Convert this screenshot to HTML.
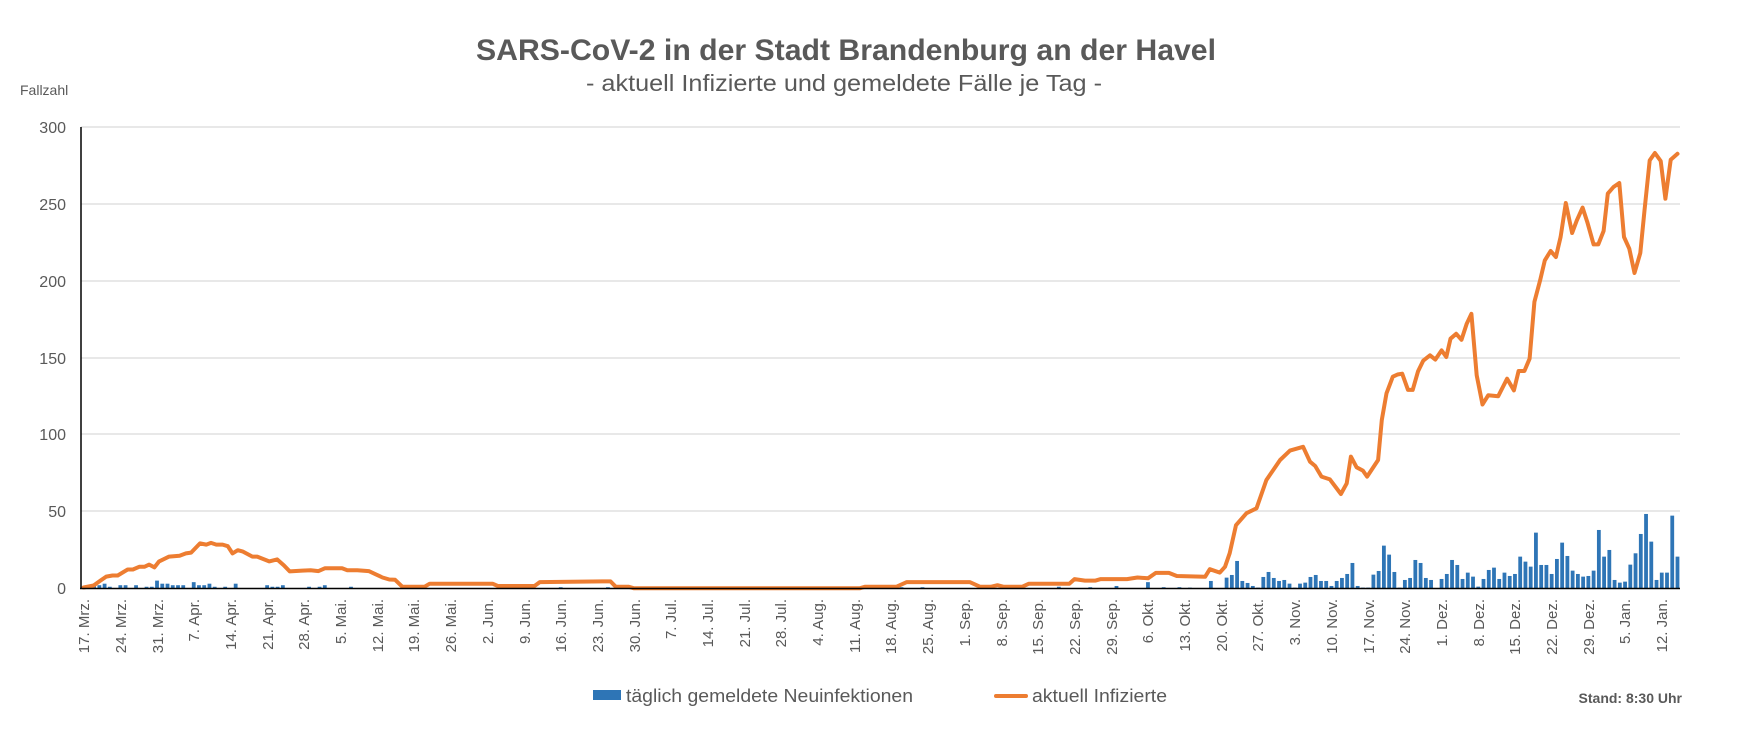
<!DOCTYPE html>
<html><head><meta charset="utf-8"><style>
html,body{margin:0;padding:0;background:#fff;}
svg{display:block;font-family:"Liberation Sans",sans-serif;}
</style></head><body>
<svg id="c" width="1737" height="729" viewBox="0 0 1737 729" xmlns="http://www.w3.org/2000/svg">
<rect width="1737" height="729" fill="#fff"/>
<text x="846" y="60" text-anchor="middle" font-size="30" font-weight="bold" fill="#595959" textLength="740" lengthAdjust="spacingAndGlyphs">SARS-CoV-2 in der Stadt Brandenburg an der Havel</text>
<text x="844" y="91" text-anchor="middle" font-size="23" fill="#595959" textLength="516" lengthAdjust="spacingAndGlyphs">- aktuell Infizierte und gemeldete Fälle je Tag -</text>
<text x="20" y="95" font-size="14" fill="#595959">Fallzahl</text>
<g id="grid" stroke="#d9d9d9" stroke-width="1.2">
<line x1="81" x2="1680" y1="127" y2="127"/><line x1="81" x2="1680" y1="204" y2="204"/><line x1="81" x2="1680" y1="281" y2="281"/><line x1="81" x2="1680" y1="358" y2="358"/><line x1="81" x2="1680" y1="434" y2="434"/><line x1="81" x2="1680" y1="511" y2="511"/>
</g>
<g font-size="16" fill="#595959" text-anchor="end">
<text x="66" y="133">300</text><text x="66" y="210">250</text><text x="66" y="287">200</text><text x="66" y="364">150</text><text x="66" y="440">100</text><text x="66" y="517">50</text><text x="66" y="594">0</text>
</g>
<g id="bars" fill="#2E75B6"></g>
<path id="ln" fill="none" stroke="#ED7D31" stroke-width="4" stroke-linejoin="round" stroke-linecap="round"/>
<line x1="81" y1="127" x2="81" y2="589" stroke="#000" stroke-width="1.5"/>
<line x1="80" y1="588.5" x2="1680" y2="588.5" stroke="#000" stroke-width="1.5"/>
<g font-size="15" fill="#595959" text-anchor="end">
<text transform="translate(89,599) rotate(-90)">17. Mrz.</text>
<text transform="translate(126,599) rotate(-90)">24. Mrz.</text>
<text transform="translate(163,599) rotate(-90)">31. Mrz.</text>
<text transform="translate(199,599) rotate(-90)">7. Apr.</text>
<text transform="translate(236,599) rotate(-90)">14. Apr.</text>
<text transform="translate(273,599) rotate(-90)">21. Apr.</text>
<text transform="translate(309,599) rotate(-90)">28. Apr.</text>
<text transform="translate(346,599) rotate(-90)">5. Mai.</text>
<text transform="translate(383,599) rotate(-90)">12. Mai.</text>
<text transform="translate(419,599) rotate(-90)">19. Mai.</text>
<text transform="translate(456,599) rotate(-90)">26. Mai.</text>
<text transform="translate(493,599) rotate(-90)">2. Jun.</text>
<text transform="translate(530,599) rotate(-90)">9. Jun.</text>
<text transform="translate(566,599) rotate(-90)">16. Jun.</text>
<text transform="translate(603,599) rotate(-90)">23. Jun.</text>
<text transform="translate(640,599) rotate(-90)">30. Jun.</text>
<text transform="translate(676,599) rotate(-90)">7. Jul.</text>
<text transform="translate(713,599) rotate(-90)">14. Jul.</text>
<text transform="translate(750,599) rotate(-90)">21. Jul.</text>
<text transform="translate(786,599) rotate(-90)">28. Jul.</text>
<text transform="translate(823,599) rotate(-90)">4. Aug.</text>
<text transform="translate(860,599) rotate(-90)">11. Aug.</text>
<text transform="translate(896,599) rotate(-90)">18. Aug.</text>
<text transform="translate(933,599) rotate(-90)">25. Aug.</text>
<text transform="translate(970,599) rotate(-90)">1. Sep.</text>
<text transform="translate(1007,599) rotate(-90)">8. Sep.</text>
<text transform="translate(1043,599) rotate(-90)">15. Sep.</text>
<text transform="translate(1080,599) rotate(-90)">22. Sep.</text>
<text transform="translate(1117,599) rotate(-90)">29. Sep.</text>
<text transform="translate(1153,599) rotate(-90)">6. Okt.</text>
<text transform="translate(1190,599) rotate(-90)">13. Okt.</text>
<text transform="translate(1227,599) rotate(-90)">20. Okt.</text>
<text transform="translate(1263,599) rotate(-90)">27. Okt.</text>
<text transform="translate(1300,599) rotate(-90)">3. Nov.</text>
<text transform="translate(1337,599) rotate(-90)">10. Nov.</text>
<text transform="translate(1374,599) rotate(-90)">17. Nov.</text>
<text transform="translate(1410,599) rotate(-90)">24. Nov.</text>
<text transform="translate(1447,599) rotate(-90)">1. Dez.</text>
<text transform="translate(1484,599) rotate(-90)">8. Dez.</text>
<text transform="translate(1520,599) rotate(-90)">15. Dez.</text>
<text transform="translate(1557,599) rotate(-90)">22. Dez.</text>
<text transform="translate(1594,599) rotate(-90)">29. Dez.</text>
<text transform="translate(1630,599) rotate(-90)">5. Jan.</text>
<text transform="translate(1667,599) rotate(-90)">12. Jan.</text>
</g>
<rect x="593" y="690" width="28" height="10" fill="#2E75B6"/>
<text x="626" y="702" font-size="18" fill="#595959" textLength="287" lengthAdjust="spacingAndGlyphs">täglich gemeldete Neuinfektionen</text>
<line x1="996" y1="696" x2="1026" y2="696" stroke="#ED7D31" stroke-width="4" stroke-linecap="round"/>
<text x="1032" y="702" font-size="18" fill="#595959" textLength="135" lengthAdjust="spacingAndGlyphs">aktuell Infizierte</text>
<text x="1682" y="703" font-size="14" font-weight="bold" fill="#595959" text-anchor="end">Stand: 8:30 Uhr</text>
</svg>
<script>
(function(){
var X0=81,W=5.243,Y0=588.3,S=1.538;
function cx(d){return X0+W*(d+0.5);}
function cy(v){return Y0-v*S;}
var K=[[0,0.5],[1.9,1.8],[3.2,5],[4.3,7.6],[5.5,8.3],[6.5,8.3],[8.4,12.2],[9.4,12.2],[10.6,14],[11.6,14],[12.5,15.4],[13.5,13.6],[14.4,17.5],[16.3,20.6],[18.3,21.1],[19.5,22.7],[20.5,23.2],[22.2,29.2],[23.4,28.4],[24.3,29.5],[25.3,28.4],[26.5,28.4],[27.5,27.4],[28.4,22.7],[29.4,24.8],[30.3,24],[32.2,20.6],[33.1,20.6],[35.4,17.5],[36.9,18.8],[38.2,14.9],[39.3,11],[41.7,11.5],[43.3,11.7],[44.8,11.2],[46,13],[49.3,13],[50.3,11.7],[52.2,11.7],[54.4,11.2],[55.7,9.1],[57,7],[58.3,5.7],[59.4,5.5],[60.8,1],[65,1],[66,3],[78,3],[79,1.5],[86,1.5],[87,4],[99,4.5],[100.5,4.5],[101.5,1],[104,1],[105,0],[148,0],[149,1],[155,1],[157,4],[169,4],[171,1],[173,1],[174.3,2],[175.5,1],[179,1],[180.3,3],[188,3],[189,6],[191,5],[193,5],[194,6],[196,6],[199,6],[201,7],[203,6.5],[204.5,10],[207,10],[208.5,8],[213.9,7.5],[214.8,12.4],[216.7,10.2],[217.7,14],[218.6,22.8],[219.8,41],[221.8,48.8],[223.7,52],[225.6,70.4],[228.2,83.4],[230.1,89.5],[232.6,92],[233.9,82.3],[234.9,79.5],[236.1,72.6],[237.7,70.8],[239.8,61.3],[240.9,68.2],[241.7,85.6],[242.8,78.7],[244,76.5],[244.8,72.6],[246.9,83.4],[247.6,109.4],[248.5,126.8],[249.7,137.6],[250.6,139],[251.5,139.5],[252.6,129],[253.5,129],[254.5,141],[255.5,148],[256.8,151.5],[257.8,148.7],[259,154.7],[259.9,150.4],[260.7,162.3],[261.8,165.5],[262.8,161.6],[263.8,172],[264.7,178.5],[265.7,138.5],[266.8,119.5],[267.9,125.5],[269.8,124.9],[271.5,136.3],[272.8,128.7],[273.7,141.3],[274.8,141.3],[275.8,149.3],[276.7,186.2],[277.8,200.2],[278.7,213.2],[279.8,219.3],[280.8,215.4],[281.7,228.4],[282.7,250.5],[283.9,231],[284.8,239.2],[285.9,247.5],[286.8,238.1],[288,223.6],[288.9,223.6],[289.9,232.3],[290.7,256.6],[291.8,260.9],[292.9,263.5],[293.8,228.4],[294.8,220.8],[295.8,205],[296.9,218],[297.7,245.7],[298.7,278.2],[299.7,283],[300.8,277.8],[301.7,253.3],[302.7,278.6],[304,282.5]];
var d="";
for(var i=0;i<K.length;i++){d+=(i?"L":"M")+cx(K[i][0]).toFixed(1)+","+cy(K[i][1]).toFixed(1);}
document.getElementById("ln").setAttribute("d",d);
var vals=new Array(305).fill(0);
function addB(x,v){var dd=Math.round((x-X0)/W-0.5);if(dd>=0&&dd<305&&v>vals[dd])vals[dd]=v;}
// early (zoom1 coords)
var z1=[[272,1210],[295,1208],[310,1204],[325,1212],[358,1209],[373,1209],[405,1209],[437,1213],[452,1213],[468,1197],[485,1204],[500,1204],[515,1209],[532,1209],[548,1209],[578,1202],[595,1209],[610,1209],[625,1204],[640,1213],[672,1213],[705,1204],[798,1209],[812,1213],[828,1213],[845,1209],[923,1213],[955,1213],[970,1209],[1050,1213]];
z1.forEach(function(p){addB(p[0]/3+2,Math.round((1217-p[1])/3.837));});
// middle scattered
[[91,0.7],[100,0.7],[150,0.7],[151,1],[156,0.7],[160,0.7],[172,0.7],[176,1],[177,0.7],[186,1],[192,0.7],[197,1.5],[203,4],[206,0.7],[209,0.7]].forEach(function(p){vals[p[0]]=p[1];});
var z8=[[22,620],[85,600],[133,590],[148,582],[163,540],[180,600],[195,606],[210,615],[225,620],[243,588],[258,573],[273,591],[288,600],[303,597],[320,608],[337,620],[352,608],[367,605],[385,588],[400,582],[415,600],[430,600],[447,615],[463,600],[478,591],[493,579],[510,546],[527,615],[542,620],[557,620],[573,581],[588,570],[603,494],[620,521],[637,573],[655,620],[670,597],[685,591],[700,537],[716,546],[732,591],[745,600]];
z8.forEach(function(p){addB(1180+p[0]/3+2,(622-p[1])/3/S);});
var z9=[[0,1360],[28,1357],[42,1342],[58,1300],[72,1315],[90,1357],[105,1338],[120,1350],[135,1380],[152,1357],[168,1330],[183,1323],[198,1357],[215,1338],[230,1348],[245,1342],[262,1290],[278,1305],[293,1320],[308,1218],[325,1315],[340,1315],[357,1342],[372,1297],[387,1248],[402,1288],[418,1332],[435,1342],[450,1350],[465,1348],[482,1332],[498,1210],[513,1290],[528,1270],[545,1360],[560,1368],[575,1365],[590,1314],[607,1280],[622,1222],[638,1162],[653,1245],[670,1360],[686,1338],[702,1338],[716,1167],[735,1290]];
z9.forEach(function(p){addB(1430+p[0]/3+2,(1385-p[1])/3/S);});
var g=document.getElementById("bars"),h="";
for(var i=0;i<305;i++){if(vals[i]>0.2){var hh=vals[i]*S;h+='<rect x="'+(cx(i)-1.9).toFixed(2)+'" y="'+(Y0-hh).toFixed(2)+'" width="3.8" height="'+hh.toFixed(2)+'"/>';}}
g.innerHTML=h;
})();
</script>
</body></html>
